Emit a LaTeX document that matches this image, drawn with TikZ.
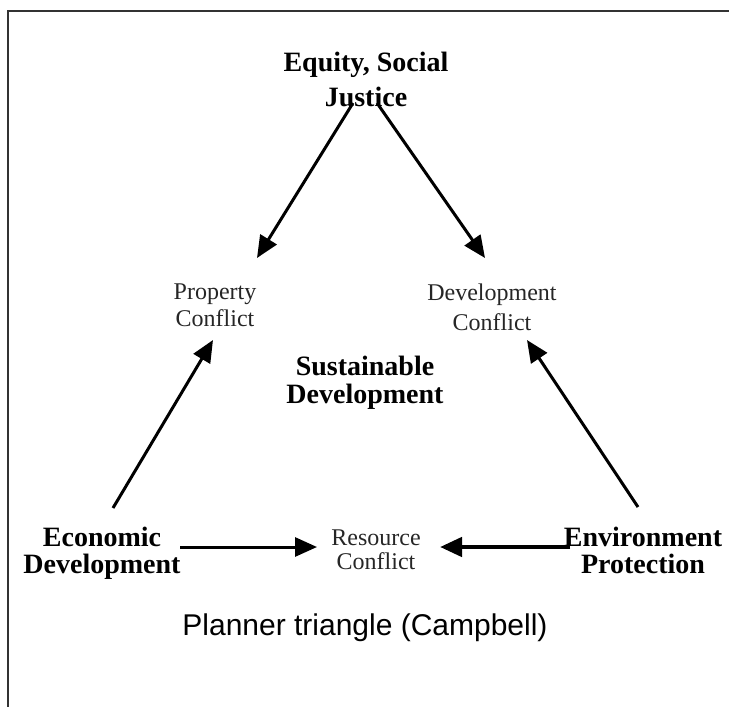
\documentclass[tikz,border=0pt]{standalone}
\usepackage{fontspec}
\setmainfont{Liberation Serif}
\newfontfamily\titlefont{Liberation Sans}
\usetikzlibrary{arrows.meta,calc}
\begin{document}
\begin{tikzpicture}[x=1pt,y=-1pt,
  pole/.style={inner sep=0pt,align=center,text=black,
    font=\fontsize{28}{#1}\selectfont\bfseries},
  pole/.default=28,
  conflict/.style={inner sep=0pt,align=center,text=black!85,
    font=\fontsize{24}{#1}\selectfont},
  conflict/.default=27,
  arr/.style={line width=3pt,-{Triangle[length=22pt,width=19pt]}},
  frameline/.style={line width=1.3pt,black!80}]
  \useasboundingbox (0,0) rectangle (729,707);

  % frame along the top and left edges
  \draw[frameline] (8,707) -- (8,11) -- (729,11);

  % the three poles of the triangle
  \node[pole=35] (just) at (366,79) {Equity, Social\\Justice};
  \node[pole=27] (econ) at (102,553) {Economic\\Development};
  \node[pole=27] (env)  at (643,550) {Environment\\Protection};

  % conflicts on the sides
  \node[conflict] (prop) at (215,305) {Property\\Conflict};
  \node[conflict=30] (devc) at (492,307) {Development\\Conflict};
  \node[conflict=24] (res)  at (376,550) {Resource\\Conflict};

  % centre
  \node[pole=28] (sust) at (365,383) {Sustainable\\Development};

  % caption
  \node[inner sep=0pt,font=\titlefont\fontsize{30}{36}\selectfont] (cap) at (365,628)
    {Planner triangle (Campbell)};

  % arrows from the poles to the conflicts
  \draw[arr] ($(just)+(-13,24)$) -- ($(prop)+(42,-47)$);
  \draw[arr] ($(just)+(11,24)$)  -- ($(devc)+(-7,-49)$);
  \draw[arr] ($(econ)+(11,-45)$) -- ($(prop)+(-2,35)$);
  \draw[arr] ($(env)+(-5,-43)$)  -- ($(devc)+(35,33)$);
  \draw[arr] ($(econ)+(78,-6)$)  -- ($(res)+(-59,-3)$);
  \draw[arr,line width=4.5pt] ($(env)+(-73,-3)$) -- ($(res)+(64,-3)$);
\end{tikzpicture}
\end{document}
